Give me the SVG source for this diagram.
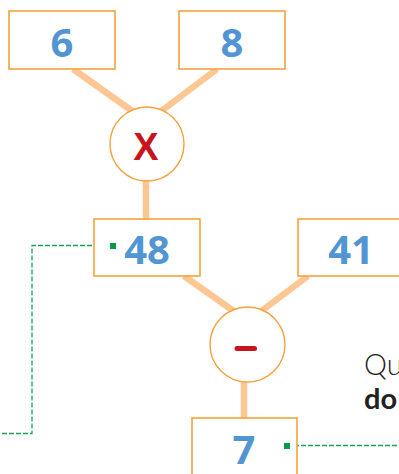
<svg xmlns="http://www.w3.org/2000/svg" width="399" height="474" viewBox="0 0 399 474">
<style>
.box{fill:#fff;stroke:#f7a03c;stroke-width:1.6}
.op{fill:#fff;stroke:#f7a03c;stroke-width:1.4}
.link{stroke:#fdc794;stroke-width:6.5;fill:none}
.num{font-family:"Open Sans","DejaVu Sans",sans-serif;font-weight:bold;font-size:40px;fill:#5196d2;text-anchor:middle}
.lead{stroke:#17a553;stroke-width:1.3;fill:none;stroke-dasharray:5 2}
.dot{fill:#0a9a48}
.txt{font-family:"Lato","Open Sans",sans-serif;font-size:29px;fill:#222}
</style>
<rect width="399" height="474" fill="#fff"/>
<g id="connectors">
<line class="link" x1="73" y1="69" x2="135" y2="113"/>
<line class="link" x1="217" y1="69" x2="160" y2="112"/>
<line class="link" x1="146" y1="175" x2="146" y2="219"/>
<line class="link" x1="184" y1="276" x2="235" y2="312"/>
<line class="link" x1="308" y1="276" x2="260" y2="312"/>
<line class="link" x1="244" y1="378" x2="244" y2="418"/>
<polyline class="lead" points="113,245.5 32,245.5 32,433.5 0,433.5"/>
<polyline class="lead" points="287,445.5 399,445.5"/>
</g>
<g id="n6"><rect class="box" x="9" y="11" width="106" height="58"/><text class="num" x="62" y="57">6</text></g>
<g id="n8"><rect class="box" x="179" y="11" width="106" height="58"/><text class="num" x="232" y="57">8</text></g>
<g id="mul"><circle class="op" cx="147" cy="144" r="37"/><text x="146" y="160" font-family="Liberation Sans,Arial,sans-serif" font-weight="bold" font-size="38" fill="#c8151d" text-anchor="middle">X</text></g>
<g id="n48"><rect class="box" x="94" y="219" width="106" height="57"/><text class="num" x="147" y="264">48</text><rect class="dot" x="110" y="243" width="6" height="6"/></g>
<g id="n41"><rect class="box" x="298" y="219" width="106" height="57"/><text class="num" x="351" y="264">41</text></g>
<g id="sub"><circle class="op" cx="247.5" cy="344.5" r="37.5"/><line x1="237" y1="348.5" x2="254.5" y2="348.5" stroke="#c8151d" stroke-width="5" stroke-linecap="round"/></g>
<g id="n7"><rect class="box" x="192" y="418" width="105" height="60"/><text class="num" x="244" y="464">7</text><rect class="dot" x="284" y="443" width="6" height="6"/></g>
<text class="txt" x="364" y="375" font-weight="300">Qu</text>
<text class="txt" x="364" y="409" font-weight="bold">do</text>
</svg>
